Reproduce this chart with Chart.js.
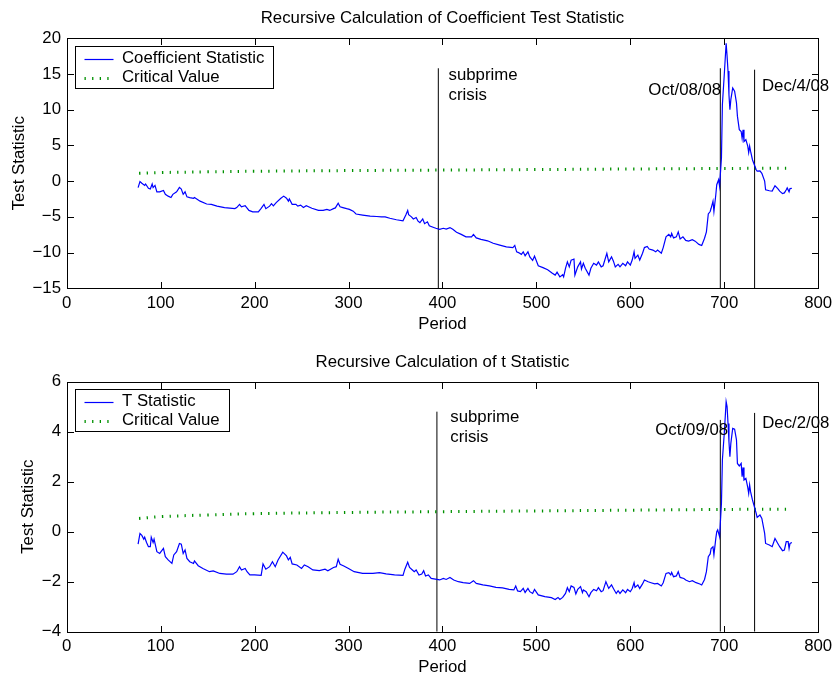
<!DOCTYPE html>
<html>
<head>
<meta charset="utf-8">
<script src="https://cdn.jsdelivr.net/npm/chart.js@4"></script>
<style>
  body { margin: 0; background: #fff; }
  .panel { position: absolute; left: 0; width: 837px; }
  .panel canvas { display: block; }
  #top { top: 0; height: 340px; }
  #bottom { top: 340px; height: 339px; }
</style>
</head>
<body>
<div class="panel" id="top"><canvas id="coefChart" width="837" height="340"></canvas></div>
<div class="panel" id="bottom"><canvas id="tChart" width="837" height="339"></canvas></div>
<script>
const FONT = "'Liberation Sans', Arial, Helvetica, sans-serif";
const FONT_SIZE = 16.8;
Chart.defaults.font.family = FONT;
Chart.defaults.font.size = FONT_SIZE;
Chart.defaults.color = '#000';

/********* data **********************************/

const coefPeriod = [76,78,80,83,84,87,89,91,92,94,96,99,103,105,108,111,113,117,120,122,124,126,128,131,135,136,142,149,154,160,168,179,181,184,186,190,191,194,198,204,207,210,212,216,218,220,223,228,231,234,236,237,240,244,246,249,252,255,261,268,273,277,280,284,286,289,291,294,298,301,305,308,315,323,330,335,339,344,351,358,361,363,364,367,369,372,374,376,379,381,384,386,390,393,397,401,404,408,411,415,420,425,431,433,436,441,448,454,461,468,475,477,479,481,484,486,488,491,493,496,498,502,507,512,517,520,522,525,528,529,531,533,535,537,540,541,544,547,548,550,552,556,558,561,564,566,569,571,575,577,580,582,584,587,589,592,595,597,600,602,604,605,608,610,613,615,618,620,624,627,629,633,635,638,641,643,644,646,649,651,653,656,659,662,666,669,673,676,679,681,683,685,686,688,689,691,692,694,695,697,698,700,702,703,704,705,706,707,709,711,713,714,716,718,719,720,721,723,725,726,727,728,730,732,734,735,738,740,743,744,748,751,754,757,759,762,764,766,767,769,770,772];
const coefValue = [-0.9,-0.07,-0.3,-0.6,-0.4,-1.0,-1.1,-0.4,-0.9,-0.6,-1.5,-1.5,-1.3,-1.85,-2.1,-2.3,-1.85,-1.5,-0.87,-1.1,-1.85,-1.5,-2.2,-2.3,-2.4,-2.3,-2.8,-3.2,-3.25,-3.5,-3.7,-3.85,-3.7,-3.25,-3.6,-3.45,-3.6,-4.1,-4.3,-4.3,-3.8,-3.25,-3.85,-3.5,-3.15,-3.45,-3.0,-2.4,-2.1,-2.4,-2.8,-2.5,-3.25,-3.25,-3.5,-3.35,-3.7,-3.45,-3.8,-4.1,-4.1,-3.95,-4.1,-3.85,-3.75,-3.1,-3.6,-3.7,-3.85,-3.95,-4.2,-4.6,-4.75,-4.9,-4.95,-5.0,-5.0,-5.2,-5.4,-5.55,-4.75,-4.1,-4.7,-5.0,-5.3,-5.1,-5.6,-5.8,-5.3,-5.95,-5.7,-6.25,-6.45,-6.6,-6.75,-6.6,-6.7,-6.5,-6.75,-7.15,-7.45,-7.8,-7.8,-7.45,-7.95,-8.15,-8.35,-8.7,-8.95,-9.2,-9.3,-9.0,-9.9,-10.0,-10.25,-9.9,-10.45,-9.9,-10.6,-11.1,-10.5,-11.85,-12.1,-12.4,-12.9,-13.15,-12.75,-13.4,-13.1,-13.4,-12.2,-11.3,-12.0,-11.05,-10.9,-13.15,-12.0,-11.3,-12.3,-11.5,-12.2,-13.15,-12.2,-11.5,-11.75,-11.3,-12.0,-11.85,-10.1,-11.3,-10.6,-11.2,-12.0,-11.65,-12.0,-11.5,-11.85,-11.3,-11.75,-11.05,-9.9,-10.8,-10.35,-11.05,-10.1,-9.3,-9.15,-9.5,-9.65,-9.9,-9.65,-10.1,-9.3,-7.8,-7.45,-7.8,-7.3,-7.95,-7.8,-7.1,-8.1,-7.8,-8.3,-8.4,-8.2,-8.4,-8.85,-9.0,-8.0,-7.1,-4.6,-4.25,-3.8,-2.8,-4.25,-1.9,-0.5,0.2,-0.7,3.25,10.7,14.9,19.3,17.5,15.4,12.1,10.0,11.4,13.05,12.6,10.95,9.1,7.2,6.95,6.0,7.2,5.55,5.8,4.9,4.0,4.9,4.2,3.0,2.3,1.6,1.4,1.45,1.1,0.0,-1.2,-1.35,-1.4,-0.65,-1.05,-1.4,-1.75,-1.65,-1.2,-0.95,-1.5,-1.05,-1.0];

const tPeriod = [76,78,80,82,83,85,87,89,90,92,93,96,99,103,105,108,112,114,117,120,122,124,126,128,131,135,136,140,145,152,156,163,170,177,181,184,186,190,192,195,200,207,209,212,216,219,222,225,230,234,236,238,240,245,250,253,257,262,269,275,278,284,287,289,291,295,300,306,315,326,333,340,349,358,360,363,365,368,370,372,375,378,380,382,385,388,394,397,401,404,408,412,417,422,429,433,436,443,450,457,464,471,476,478,480,483,486,488,491,493,496,498,502,509,516,520,523,525,528,531,533,535,537,540,542,544,547,549,550,553,556,558,561,564,566,569,571,574,577,580,582,585,587,589,592,595,597,600,602,604,605,608,610,613,615,619,622,626,629,633,635,638,641,643,644,646,649,651,653,657,659,663,666,670,674,676,679,681,683,685,686,688,689,691,692,693,695,697,698,700,702,703,704,705,706,707,709,711,713,714,716,718,719,720,721,723,725,726,727,728,730,732,734,735,738,740,743,744,748,751,754,757,759,762,764,766,768,769,770,772];
const tValue = [-0.5,-0.07,-0.15,-0.3,-0.22,-0.43,-0.6,-0.6,-0.22,-0.43,-0.3,-0.8,-0.87,-0.67,-1.0,-1.13,-1.27,-0.93,-0.8,-0.47,-0.5,-0.87,-0.73,-1.07,-1.2,-1.27,-1.17,-1.36,-1.47,-1.6,-1.57,-1.67,-1.7,-1.7,-1.6,-1.4,-1.53,-1.47,-1.6,-1.73,-1.73,-1.75,-1.29,-1.5,-1.4,-1.2,-1.4,-1.13,-0.82,-0.97,-1.13,-1.03,-1.29,-1.33,-1.47,-1.33,-1.4,-1.53,-1.56,-1.5,-1.56,-1.43,-1.4,-1.1,-1.3,-1.37,-1.47,-1.6,-1.67,-1.67,-1.64,-1.69,-1.73,-1.75,-1.5,-1.22,-1.43,-1.53,-1.6,-1.53,-1.73,-1.69,-1.56,-1.77,-1.73,-1.87,-1.91,-1.93,-1.87,-1.91,-1.83,-1.93,-2.0,-2.04,-2.07,-1.96,-2.07,-2.13,-2.17,-2.23,-2.25,-2.31,-2.33,-2.17,-2.37,-2.4,-2.27,-2.43,-2.27,-2.4,-2.47,-2.31,-2.53,-2.6,-2.64,-2.71,-2.63,-2.71,-2.63,-2.47,-2.24,-2.4,-2.17,-2.23,-2.49,-2.31,-2.2,-2.44,-2.33,-2.4,-2.6,-2.44,-2.31,-2.36,-2.24,-2.4,-2.36,-2.0,-2.27,-2.13,-2.27,-2.47,-2.36,-2.47,-2.33,-2.44,-2.31,-2.4,-2.27,-2.04,-2.23,-2.13,-2.27,-2.09,-1.93,-2.0,-2.04,-2.09,-2.07,-2.17,-2.04,-1.67,-1.64,-1.73,-1.63,-1.8,-1.77,-1.6,-1.83,-1.87,-1.93,-2.0,-1.96,-2.04,-2.09,-2.13,-1.91,-1.6,-1.0,-0.89,-0.67,-0.6,-0.93,-0.27,0.0,0.07,-0.2,1.13,2.87,3.93,5.2,5.0,4.33,3.6,3.0,3.53,4.13,4.1,3.67,2.73,2.63,2.73,2.2,2.57,2.07,2.13,1.77,1.53,1.87,1.6,1.27,1.0,0.73,0.57,0.67,0.53,-0.07,-0.47,-0.53,-0.6,-0.27,-0.47,-0.6,-0.76,-0.73,-0.4,-0.4,-0.67,-0.47,-0.43];

const critPeriod = [77, 100, 150, 200, 300, 400, 500, 600, 700, 772];
const critCoef = [1.1, 1.2, 1.3, 1.38, 1.48, 1.55, 1.62, 1.7, 1.77, 1.82];
const critT = [0.53, 0.6, 0.67, 0.72, 0.77, 0.8, 0.83, 0.86, 0.89, 0.9];

// vertical event lines: period and how high each one reaches
const coefMarkPeriod = [395.6, 695.8, 732.3];
const coefMarkTop = [15.8, 15.8, 15.6];
const tMarkPeriod = [394.1, 695.8, 732.3];
const tMarkTop = [4.8, 4.47, 4.75];

const coefNotes = ["subprime", "crisis", "Oct/08/08", "Dec/4/08"];
const coefNoteX = [406.5, 406.5, 619.2, 740.1];
const coefNoteY = [14.86, 12.06, 12.76, 13.2];
const tNotes = ["subprime", "crisis", "Oct/09/08", "Dec/2/08"];
const tNoteX = [408.3, 408.3, 626.6, 740.4];
const tNoteY = [4.59, 3.79, 4.07, 4.35];

const xTicks = [0, 100, 200, 300, 400, 500, 600, 700, 800];

/********* helpers *************/

const toPoints = (xs, ys) => xs.map((x, i) => ({ x: x, y: ys[i] }));
const minus = v => String(v).replace("-", "\u2212");

const crisp = v => Math.round(v) + 0.5;

// matlab style box with inward ticks, the text notes and the legend box
const boxAxes = {
  id: "boxAxes",
  afterDraw(chart, args, opts) {
    const { ctx, chartArea: a } = chart;
    const x = chart.scales.x;
    const y = chart.scales.y;
    const tick = 6.5;
    const L = crisp(a.left), R = crisp(a.right), T = crisp(a.top), B = crisp(a.bottom);

    ctx.save();
    ctx.strokeStyle = "#000";
    ctx.lineWidth = 1;
    ctx.beginPath();
    x.ticks.forEach(t => {
      const px = crisp(x.getPixelForValue(t.value));
      ctx.moveTo(px, B); ctx.lineTo(px, B - tick);
      ctx.moveTo(px, T); ctx.lineTo(px, T + tick);
    });
    y.ticks.forEach(t => {
      const py = crisp(y.getPixelForValue(t.value));
      ctx.moveTo(L, py); ctx.lineTo(L + tick, py);
      ctx.moveTo(R, py); ctx.lineTo(R - tick, py);
    });
    ctx.stroke();
    ctx.strokeRect(L, T, R - L, B - T);

    ctx.font = FONT_SIZE + "px " + FONT;
    ctx.fillStyle = "#000";
    ctx.textAlign = "left";
    ctx.textBaseline = "middle";
    opts.notes.forEach((n, i) => {
      ctx.fillText(n, x.getPixelForValue(opts.noteX[i]), y.getPixelForValue(opts.noteY[i]));
    });

    // legend
    const items = chart.data.datasets.slice(0, 2);
    const bx = crisp(a.left + 8), by = crisp(a.top + 7.5);
    const textX = bx + 46.5;
    const w = Math.max(...items.map(d => ctx.measureText(d.label).width));
    const bw = Math.round(textX - bx + w + 9.5);
    ctx.fillStyle = "#fff";
    ctx.fillRect(bx, by, bw, 42.5);
    ctx.strokeStyle = "#000";
    ctx.strokeRect(bx, by, bw, 42);
    items.forEach((d, i) => {
      const cy = by + 12 + i * 19;
      ctx.save();
      ctx.strokeStyle = d.borderColor;
      ctx.lineWidth = d.borderWidth;
      ctx.lineCap = "butt";
      ctx.setLineDash(d.borderDash || []);
      ctx.beginPath();
      ctx.moveTo(bx + 9, Math.round(cy) + 0.5);
      ctx.lineTo(bx + 38, Math.round(cy) + 0.5);
      ctx.stroke();
      ctx.restore();
      ctx.fillStyle = "#000";
      ctx.fillText(d.label, textX, cy);
    });
    ctx.restore();
  }
};

const makeChart = (id, c) => {
  const ctx = document.getElementById(id).getContext("2d");
  const marks = c.markPeriod.map((p, i) => ({
    label: "",
    data: [{ x: p, y: c.yMin }, { x: p, y: c.markTop[i] }],
    borderColor: "#000",
    borderWidth: 1,
    pointRadius: 0
  }));
  return new Chart(ctx, {
    type: "line",
    data: {
      datasets: [
        {
          label: c.seriesLabel,
          data: toPoints(c.period, c.value),
          borderColor: "#0000ff",
          borderWidth: 1.2,
          pointRadius: 0,
          tension: 0
        },
        {
          label: "Critical Value",
          data: toPoints(critPeriod, c.crit),
          borderColor: "rgb(0,145,0)",
          borderWidth: 3,
          borderDash: [1.3, 6.3],
          borderCapStyle: "butt",
          pointRadius: 0,
          tension: 0.4
        },
        ...marks
      ]
    },
    options: {
      responsive: false,
      animation: false,
      events: [],
      layout: { padding: { left: 0, right: 18, top: 0, bottom: 0 } },
      plugins: {
        legend: { display: false },
        tooltip: { enabled: false },
        title: {
          display: true,
          fullSize: false,
          text: c.title,
          font: { size: FONT_SIZE, weight: "normal" },
          color: "#000",
          padding: c.titlePad
        },
        boxAxes: { notes: c.notes, noteX: c.noteX, noteY: c.noteY }
      },
      scales: {
        x: {
          type: "linear",
          min: 0,
          max: 800,
          afterBuildTicks: s => { s.ticks = xTicks.map(v => ({ value: v })); },
          afterFit: s => { s.height = c.xHeight; },
          grid: { display: false, drawTicks: false },
          border: { display: false },
          ticks: { padding: 4.8, maxRotation: 0, autoSkip: false, callback: minus },
          title: { display: true, text: "Period", padding: { top: 0, bottom: c.xTitlePad } }
        },
        y: {
          min: c.yMin,
          max: c.yMax,
          afterBuildTicks: s => { s.ticks = c.yTicks.map(v => ({ value: v })); },
          afterFit: s => { s.width = 66.7; },
          grid: { display: false, drawTicks: false },
          border: { display: false },
          ticks: { padding: 5.7, autoSkip: false, callback: minus },
          title: { display: true, text: "Test Statistic", padding: { top: c.yTitlePad, bottom: 0 } }
        }
      }
    },
    plugins: [boxAxes]
  });
};

makeChart("coefChart", {
  title: "Recursive Calculation of Coefficient Test Statistic",
  seriesLabel: "Coefficient Statistic",
  period: coefPeriod,
  value: coefValue,
  crit: critCoef,
  markPeriod: coefMarkPeriod,
  markTop: coefMarkTop,
  notes: coefNotes,
  noteX: coefNoteX,
  noteY: coefNoteY,
  yMin: -15,
  yMax: 20,
  yTicks: [-15, -10, -5, 0, 5, 10, 15, 20],
  titlePad: { top: 7.9, bottom: 10.2 },
  xHeight: 51.7,
  xTitlePad: 5.6,
  yTitlePad: 9.2
});

makeChart("tChart", {
  title: "Recursive Calculation of t Statistic",
  seriesLabel: "T Statistic",
  period: tPeriod,
  value: tValue,
  crit: critT,
  markPeriod: tMarkPeriod,
  markTop: tMarkTop,
  notes: tNotes,
  noteX: tNoteX,
  noteY: tNoteY,
  yMin: -4,
  yMax: 6,
  yTicks: [-4, -2, 0, 2, 4, 6],
  titlePad: { top: 12.6, bottom: 8.9 },
  xHeight: 47.3,
  xTitlePad: 1.2,
  yTitlePad: 18.2
});
</script>
</body>
</html>
